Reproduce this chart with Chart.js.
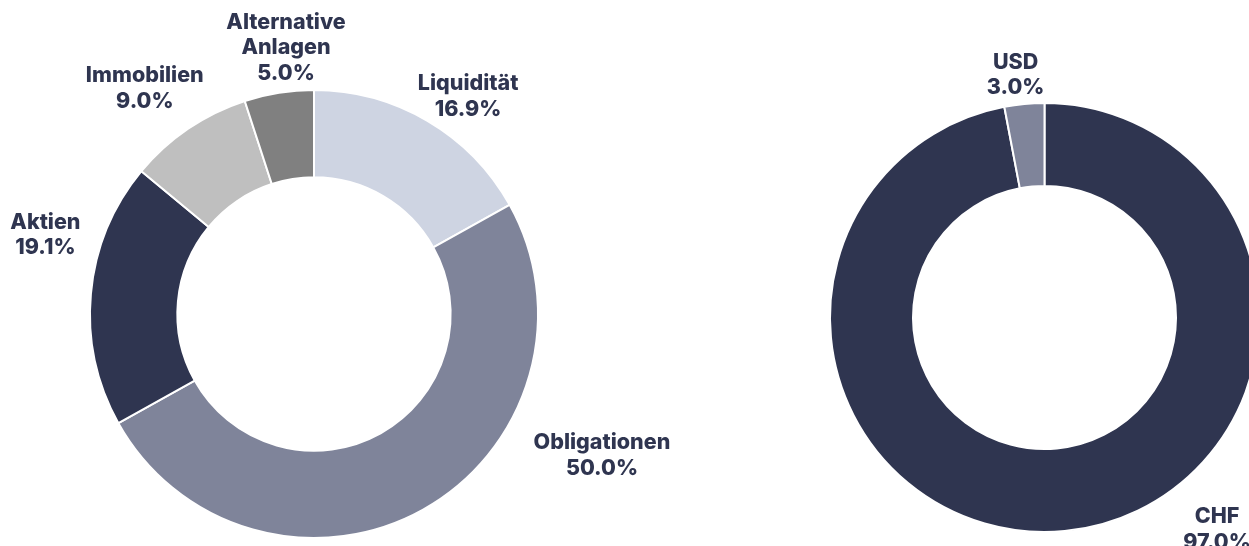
<!DOCTYPE html>
<html>
<head>
<meta charset="utf-8">
<script src="https://cdn.jsdelivr.net/npm/chart.js@4/dist/chart.umd.min.js"></script>
<style>
  html, body { margin: 0; padding: 0; background: #ffffff; overflow: hidden; width: 1249px; height: 546px; }
  #wrapLeft { position: absolute; left: 0; top: 0; width: 720px; height: 546px; }
  #wrapRight { position: absolute; left: 724px; top: 0; width: 750px; height: 546px; }
</style>
</head>
<body>
<div id="wrapLeft"><canvas id="left"></canvas></div>
<div id="wrapRight"><canvas id="right"></canvas></div>
<script>
// ---- Data ----
const assetCategories = ["Liquidität", "Obligationen", "Aktien", "Immobilien", ["Alternative", "Anlagen"]];
const assetValues = [16.9, 50.0, 19.1, 9.0, 5.0];
const assetColors = ["#CED4E2", "#7F849A", "#2F3550", "#BFBFBF", "#808080"];

const currencyCategories = ["CHF", "USD"];
const currencyValues = [97.0, 3.0];
const currencyColors = ["#2F3550", "#7F849A"];

// ---- Label plugin: places text around each arc, using the arc's own geometry ----
const outerLabels = {
  id: 'outerLabels',
  afterDatasetsDraw(chart, args, opts) {
    const ctx = chart.ctx;
    const meta = chart.getDatasetMeta(0);
    const data = chart.data.datasets[0].data;
    const place = opts.placement || [];
    ctx.save();
    ctx.font = opts.font;
    ctx.fillStyle = opts.color;
    ctx.textAlign = 'center';
    ctx.textBaseline = 'middle';
    meta.data.forEach((arc, i) => {
      const p = arc.getProps(['x', 'y', 'startAngle', 'endAngle', 'outerRadius'], true);
      const pl = place[i] || { rot: 0, dist: 1.2 };
      const mid = (p.startAngle + p.endAngle) / 2 + pl.rot * Math.PI / 180;
      const r = p.outerRadius * pl.dist;
      const cx = p.x + Math.cos(mid) * r;
      const cy = p.y + Math.sin(mid) * r;
      const lab = chart.data.labels[i];
      const lines = (Array.isArray(lab) ? lab.slice() : [lab]);
      lines.push(Number(data[i]).toFixed(1) + '%');
      const lh = opts.lineHeight;
      const y0 = cy - (lines.length - 1) * lh / 2;
      lines.forEach((t, k) => ctx.fillText(t, cx, y0 + k * lh));
    });
    ctx.restore();
  }
};

const labelFont = '800 21.5px Inter, "Noto Sans", sans-serif';
const labelColor = '#2F3550';

function makeChart(id, labels, values, colors, cutout, padding, placement) {
  return new Chart(document.getElementById(id), {
    type: 'doughnut',
    data: {
      labels: labels,
      datasets: [{
        data: values,
        backgroundColor: colors,
        borderColor: '#ffffff',
        borderWidth: 2,
        hoverOffset: 0
      }]
    },
    options: {
      responsive: true,
      maintainAspectRatio: false,
      animation: false,
      cutout: cutout,
      layout: { padding: padding },
      plugins: {
        legend: { display: false },
        tooltip: { enabled: false },
        outerLabels: { font: labelFont, color: labelColor, lineHeight: 25.5, placement: placement }
      }
    },
    plugins: [outerLabels]
  });
}

makeChart('left', assetCategories, assetValues, assetColors, '61%',
  { left: 89, right: 181, top: 89, bottom: 7 },
  [
    { rot: 4.9, dist: 1.19 },
    { rot: -34.7, dist: 1.432 },
    { rot: 11.2, dist: 1.25 },
    { rot: -2.7, dist: 1.258 },
    { rot: 3.0, dist: 1.194 }
  ]);

makeChart('right', currencyCategories, currencyValues, currencyColors, '61.3%',
  { left: 105, right: 214, top: 102, bottom: 13 },
  [
    { rot: -33.7, dist: 1.275 },
    { rot: -1.4, dist: 1.138 }
  ]);
</script>
</body>
</html>
